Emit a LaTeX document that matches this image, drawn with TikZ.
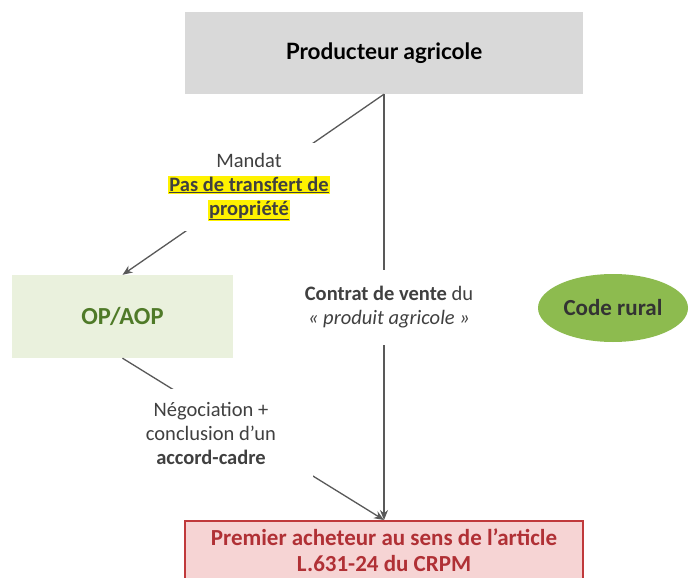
\documentclass[tikz,border=0pt]{standalone}
\usepackage{fontspec}
\setmainfont{Carlito}
\newfontfamily\headfont{Lato}
\usetikzlibrary{arrows.meta,shapes.geometric,positioning}
\definecolor{boxgray}{HTML}{D9D9D9}
\definecolor{opfill}{HTML}{EAF1DD}
\definecolor{opdark}{HTML}{4F7A28}
\definecolor{codefill}{HTML}{8DBB4F}
\definecolor{buyfill}{HTML}{F6D4D4}
\definecolor{buyred}{HTML}{C0393B}
\definecolor{buytext}{HTML}{B03035}
\definecolor{linegray}{HTML}{595959}
\definecolor{textgray}{HTML}{404040}
\tikzset{box/.style={rectangle, inner sep=0pt, align=center}, link/.style={draw=linegray, line width=1.3pt}, tip/.style={-{Stealth[length=10pt,width=8pt]}}, lbl/.style={fill=white, text=textgray, align=center, font=\fontsize{20.5}{24}\selectfont}}
\newcommand{\hl}[1]{{\setlength{\fboxsep}{1pt}\colorbox{yellow}{\underline{#1}}}}

\begin{document}
\begin{tikzpicture}[x=1pt, y=-1pt]
    \clip (0,0) rectangle (689,578);
    \fill[white] (0,0) rectangle (689,578);
    % boxes
    \node[box, fill=boxgray, minimum width=398pt, minimum height=82pt, font=\headfont\bfseries\fontsize{22.5}{26}\selectfont] (prod) at (384,53) {Producteur agricole};
    \node[box, fill=opfill, minimum width=221pt, minimum height=83pt, text=opdark, font=\bfseries\fontsize{24.5}{28}\selectfont] (op) at (122.5,316.5) {OP/AOP};
    \node[ellipse, fill=codefill, minimum width=150pt, minimum height=68pt, inner sep=0pt, text=textgray!80!black, font=\bfseries\fontsize{23}{26}\selectfont] (code) at (613,308) {Code rural};
    \node[box, fill=buyfill, draw=buyred, line width=1.5pt, minimum width=398pt, anchor=north, text=buytext, font=\bfseries\fontsize{23}{26.5}\selectfont, inner ysep=8pt] (buyer) at (384,520) {Premier acheteur au sens de l'article\\L.631-24 du CRPM};
    % links
    \draw[link, tip] (prod.south) -- (op.north);
    \draw[link, tip] (op.south) -- (buyer.north);
    \draw[link, tip] (prod.south) -- (buyer.north);
    % labels
    \node[lbl, inner xsep=2pt, minimum height=88pt] (mandat) at (249,187) {Mandat\\\textbf{\hl{Pas de transfert de}}\\\textbf{\hl{propriété}}};
    \node[lbl, minimum height=75pt] (contrat) at (389,307) {\textbf{Contrat de vente} du\\\textit{« produit agricole »}};
    \node[lbl, minimum width=204pt, minimum height=89pt] (nego) at (211,433) {Négociation +\\conclusion d’un\\\textbf{accord-cadre}};
\end{tikzpicture}
\end{document}
